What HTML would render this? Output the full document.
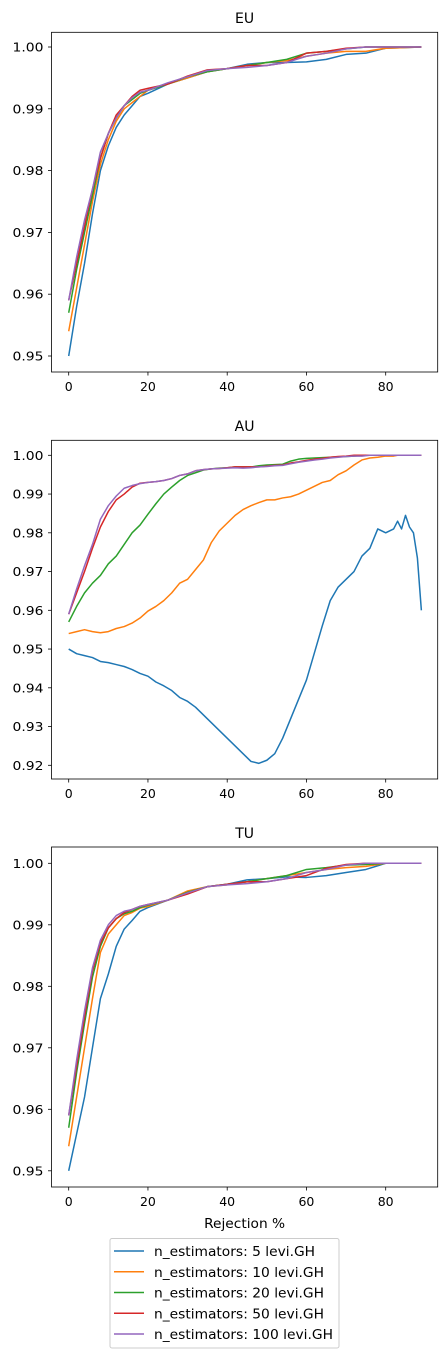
<!DOCTYPE html>
<html><head><meta charset="utf-8"><style>
body{margin:0;background:#fff;}
svg{display:block;font-family:"DejaVu Sans","Liberation Sans",sans-serif;}
</style></head><body>
<svg id="chart" width="448" height="1355" viewBox="0 0 448 1355" xmlns="http://www.w3.org/2000/svg"></svg>
<script>
const colors = ['#1f77b4','#ff7f0e','#2ca02c','#d62728','#9467bd'];
const seriesNames = ['n_estimators: 5 levi.GH','n_estimators: 10 levi.GH','n_estimators: 20 levi.GH','n_estimators: 50 levi.GH','n_estimators: 100 levi.GH'];
const xTicks = [0,20,40,60,80];

const euX = [0,2,4,6,8,10,12,14,16,18,20,25,30,35,40,45,50,55,60,65,70,75,80,89];
const euBlue = [.950,.958,.965,.973,.980,.984,.987,.989,.9905,.992,.9925,.994,.995,.996,.9965,.9972,.9975,.9975,.9976,.998,.9988,.999,.9998,1.0];
const euOrange = [.954,.961,.968,.975,.981,.985,.988,.990,.991,.992,.993,.994,.995,.996,.9965,.997,.9975,.9978,.9985,.999,.9993,.9993,.9998,1.0];
const euGreen = [.957,.964,.970,.976,.982,.986,.9885,.9905,.9915,.9925,.993,.994,.9952,.996,.9965,.997,.9975,.998,.999,.9993,.9997,1,1,1];
const euRed = [.959,.965,.971,.977,.982,.986,.989,.9905,.992,.993,.9933,.994,.9953,.9963,.9965,.997,.997,.9975,.999,.9993,.9998,1,1,1];
const euPurple = [.959,.966,.972,.977,.983,.986,.9885,.9905,.9918,.9927,.993,.9942,.9952,.9962,.9965,.9967,.997,.9975,.9985,.999,.9997,1,1,1];
const euTicks = [0.95,0.96,0.97,0.98,0.99,1.00];

const auX = [0,2,4,6,8,10,12,14,16,18,20,22,24,26,28,30,32,34,36,38,40,42,44,46,48,50,52,54,56,58,60,62,64,66,68,70,72,74,76,78,80,82,83,84,85,86,87,88,89];
const auBlue = [.950,.9488,.9483,.9478,.9468,.9465,.946,.9455,.9447,.9437,.943,.9415,.9405,.9393,.9375,.9365,.935,.933,.931,.929,.927,.925,.923,.921,.9205,.9213,.923,.927,.932,.937,.942,.949,.956,.9625,.966,.968,.970,.974,.976,.981,.980,.981,.983,.981,.9845,.9815,.980,.9735,.960];
const auOrange = [.954,.9545,.955,.9545,.9542,.9545,.9553,.9558,.9567,.958,.9598,.961,.9625,.9645,.967,.968,.9705,.973,.9775,.9805,.9825,.9845,.986,.987,.9878,.9885,.9885,.989,.9893,.990,.991,.992,.993,.9935,.995,.996,.9975,.9988,.9993,.9995,.9998,.9998,1,1,1,1,1,1,1];
const auGreen = [.957,.961,.9645,.967,.969,.972,.974,.977,.980,.982,.9848,.9875,.990,.9918,.9935,.9948,.9955,.9962,.9965,.9967,.9968,.997,.997,.997,.9973,.9975,.9976,.9977,.9985,.999,.9992,.9993,.9994,.9995,.9996,.9997,.9998,1,1,1,1,1,1,1,1,1,1,1,1];
const auRed = [.959,.9645,.970,.976,.9815,.9855,.9885,.990,.9918,.9928,.993,.9932,.9935,.994,.9948,.9952,.996,.9963,.9965,.9966,.9968,.997,.997,.997,.997,.9972,.9974,.9975,.998,.9983,.9987,.999,.9992,.9995,.9997,.9998,1,1,1,1,1,1,1,1,1,1,1,1,1];
const auPurple = [.959,.9655,.9715,.977,.9835,.987,.9895,.9915,.9922,.9927,.993,.9932,.9935,.994,.9948,.9952,.996,.9963,.9965,.9966,.9967,.9968,.9967,.9968,.997,.9971,.9973,.9974,.9978,.9982,.9985,.9988,.999,.9993,.9995,.9997,.9998,.9998,1,1,1,1,1,1,1,1,1,1,1];
const auTicks = [0.92,0.93,0.94,0.95,0.96,0.97,0.98,0.99,1.00];

const tuX = euX;
const tuBlue = [.950,.956,.962,.970,.978,.982,.9865,.9893,.9907,.9922,.9928,.994,.9952,.9962,.9966,.9973,.9975,.9978,.9977,.998,.9985,.999,1,1];
const tuOrange = [.954,.962,.970,.978,.9855,.9885,.990,.9915,.992,.9927,.993,.994,.9955,.9962,.9965,.997,.9975,.998,.9985,.999,.9993,.9995,1,1];
const tuGreen = [.957,.966,.974,.9815,.9865,.9895,.991,.9918,.9922,.9928,.9932,.994,.9953,.9962,.9966,.997,.9975,.998,.999,.9993,.9997,.9998,1,1];
const tuRed = [.959,.967,.975,.9825,.987,.9895,.991,.992,.9925,.993,.9933,.994,.995,.9962,.9966,.997,.997,.9975,.998,.9992,.9998,1,1,1];
const tuPurple = [.959,.968,.976,.983,.9875,.990,.9915,.9922,.9925,.993,.9933,.994,.9952,.9962,.9965,.9967,.997,.9975,.9985,.999,.9997,1,1,1];
const tuTicks = [0.95,0.96,0.97,0.98,0.99,1.00];

const NS='http://www.w3.org/2000/svg';
const svg=document.getElementById('chart');
function mk(tag,attrs,parent){const e=document.createElementNS(NS,tag);for(const k in attrs)e.setAttribute(k,attrs[k]);(parent||svg).appendChild(e);return e;}

const panels=[
 {title:'EU',name:'eu',top:32.3,bottom:372,y1:47,v1:1.0,y0:356,v0:0.95,ticks:euTicks,x:euX,s:[euBlue,euOrange,euGreen,euRed,euPurple],titleY:23},
 {title:'AU',name:'au',top:440.3,bottom:779,y1:455.3,v1:1.0,y0:765.3,v0:0.92,ticks:auTicks,x:auX,s:[auBlue,auOrange,auGreen,auRed,auPurple],titleY:431},
 {title:'TU',name:'tu',top:847,bottom:1187,y1:863.3,v1:1.0,y0:1170.8,v0:0.95,ticks:tuTicks,x:tuX,s:[tuBlue,tuOrange,tuGreen,tuRed,tuPurple],titleY:838}
];
const L=51.5,R=437.7;
const xs=v=>68.7+v*(385.7-68.7)/80;
panels.forEach(p=>{
  const g=mk('g',{});
  
  
  const ys=v=>p.y0+(v-p.v0)*(p.y1-p.y0)/(p.v1-p.v0);
  const t=mk('text',{x:(L+R)/2,y:p.titleY,'text-anchor':'middle','font-size':'14',fill:'#000'},g);
  t.textContent=p.title;
  
  
  p.s.forEach((arr,i)=>{
    const pts=arr.map((v,j)=>xs(p.x[j]).toFixed(2)+','+ys(v).toFixed(2)).join(' ');
    const pl=mk('polyline',{points:pts,fill:'none',stroke:colors[i],'stroke-width':'1.5','stroke-linejoin':'round'},g);
    
    
  });
  const fr=mk('rect',{x:L,y:p.top,width:R-L,height:p.bottom-p.top,fill:'none',stroke:'#000','stroke-width':'0.8'},g);
  
  
  p.ticks.forEach(v=>{
    const y=ys(v);
    mk('line',{x1:L-3.5,x2:L,y1:y,y2:y,stroke:'#000','stroke-width':'0.8'},g);
    const tl=mk('text',{x:L-8,y:y+4.5,'text-anchor':'end','font-size':'12.5',fill:'#000',textLength:'31',lengthAdjust:'spacingAndGlyphs'},g);
    tl.textContent=v.toFixed(2);
    
    
  });
  xTicks.forEach(v=>{
    const x=xs(v);
    mk('line',{x1:x,x2:x,y1:p.bottom,y2:p.bottom+3.5,stroke:'#000','stroke-width':'0.8'},g);
    const tl=mk('text',{x:x,y:p.bottom+19,'text-anchor':'middle','font-size':'12.5',fill:'#000'},g);
    tl.textContent=String(v);
    
    
  });
});
const xt=mk('text',{x:(L+R)/2+0,y:1228,'text-anchor':'middle','font-size':'13',fill:'#000',textLength:'81',lengthAdjust:'spacingAndGlyphs'});
xt.textContent='Rejection %';


const lg=mk('g',{});


mk('rect',{x:110,y:1238.5,width:229,height:109.5,rx:2,fill:'#fff',stroke:'#ccc','stroke-width':'1'},lg);
const legendW=[161,170,170,170,179];
seriesNames.forEach((n,i)=>{
  const y=1251+i*20.75;
  mk('line',{x1:114,x2:144,y1:y,y2:y,stroke:colors[i],'stroke-width':'1.5'},lg);
  const t=mk('text',{x:154,y:y+5,'font-size':'13.5',fill:'#000',textLength:String(legendW[i]),lengthAdjust:'spacingAndGlyphs'},lg);
  t.textContent=n;
  
  
});
</script>
</body></html>
